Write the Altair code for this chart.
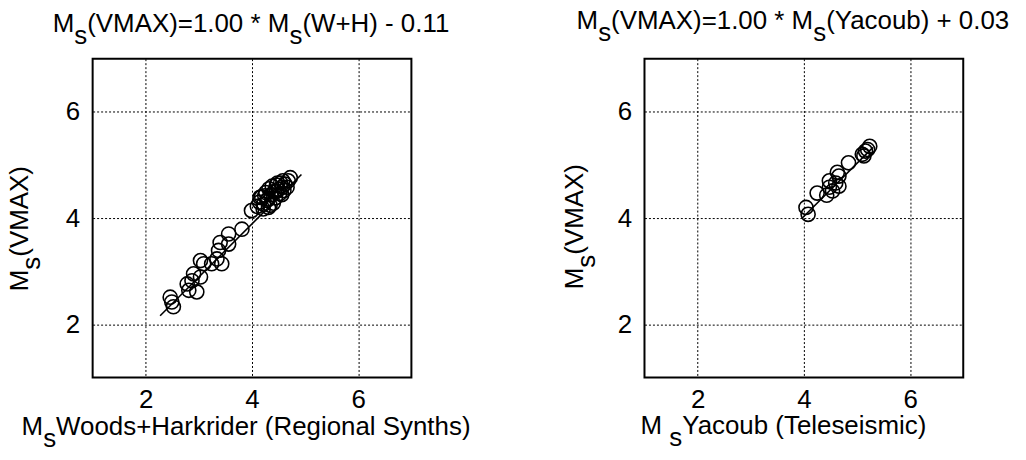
import altair as alt
import pandas as pd

# Ms from Woods+Harkrider regional synthetics vs Ms(VMAX)
wh_ms = [2.46, 2.49, 2.52, 2.78, 2.81, 2.87, 2.90, 2.96, 3.03, 3.03, 3.09, 3.24,
         3.34, 3.37, 3.40, 3.43, 3.56, 3.56, 3.81, 3.99, 4.15, 4.21, 4.31,
         4.10, 4.14, 4.18, 4.22, 4.26, 4.30, 4.32, 4.36, 4.38, 4.42, 4.44, 4.46,
         4.50, 4.52, 4.54, 4.57, 4.60, 4.62, 4.66, 4.68, 4.72, 4.48, 4.40, 4.56, 4.34,
         4.24, 4.28, 4.46, 4.58]
wh_vmax = [2.51, 2.42, 2.33, 2.76, 2.64, 2.82, 2.95, 2.61, 2.89, 3.20, 3.14, 3.14,
           3.23, 3.39, 3.54, 3.14, 3.51, 3.70, 3.79, 4.14, 4.39, 4.17, 4.20,
           4.22, 4.30, 4.40, 4.26, 4.48, 4.36, 4.55, 4.44, 4.60, 4.50, 4.38, 4.62,
           4.54, 4.46, 4.66, 4.58, 4.52, 4.64, 4.58, 4.70, 4.76, 4.66, 4.28, 4.44, 4.24,
           4.42, 4.33, 4.50, 4.70]
wh_fit = [1.00, -0.11]          # slope, intercept
wh_line_x = [2.27, 4.93]

# Ms from Yacoub teleseismic vs Ms(VMAX)
yac_ms = [4.04, 4.08, 4.25, 4.43, 4.48, 4.48, 4.54, 4.60, 4.66, 4.66, 4.63,
          4.84, 5.10, 5.16, 5.20, 5.24, 5.13]
yac_vmax = [4.20, 4.07, 4.47, 4.43, 4.58, 4.70, 4.51, 4.66, 4.60, 4.79, 4.86,
            5.04, 5.20, 5.26, 5.29, 5.35, 5.17]
yac_fit = [1.00, 0.03]
yac_line_x = [3.97, 5.30]

axis_ticks = [2, 4, 6]
axis_domain = [1, 7]

FONT = "Liberation Sans"
FS = 26          # font size for every text
SUB = 12         # baseline drop of a subscript
SIDE = 320       # plot area side, px

# Arial / Liberation Sans advance widths (1/1000 em)
ADVANCE = {
    " ": 278, "(": 333, ")": 333, "*": 389, "+": 584, "-": 333, ".": 278, "=": 584,
    "0": 556, "1": 556, "3": 556,
    "A": 667, "H": 722, "M": 833, "R": 722, "S": 667, "T": 611, "V": 667, "W": 944,
    "X": 667, "Y": 667,
    "a": 556, "b": 556, "c": 500, "d": 556, "e": 556, "g": 556, "h": 556, "i": 222,
    "k": 500, "l": 222, "m": 833, "n": 556, "o": 556, "r": 333, "s": 500, "t": 278,
    "u": 556, "y": 500,
}


def run_width(s):
    return sum(ADVANCE[c] for c in s) * FS / 1000.0


def one_text(s, x, y, angle=0):
    return (
        alt.Chart(alt.Data(values=[{}]))
        .mark_text(text=s, align="left", baseline="alphabetic", font=FONT,
                   fontSize=FS, color="black", angle=angle)
        .encode(x=alt.value(x), y=alt.value(y))
    )


def rich_label(parts, center, base, vertical=False):
    """Text runs with TeX-like subscripts. parts: list of (text, is_subscript)."""
    total = sum(run_width(t) for t, _ in parts)
    layers = []
    if not vertical:
        cur = center - total / 2.0
        for t, sub in parts:
            layers.append(one_text(t, cur, base + (SUB if sub else 0)))
            cur += run_width(t)
    else:
        cur = center + total / 2.0
        for t, sub in parts:
            layers.append(one_text(t, base + (SUB if sub else 0), cur, angle=270))
            cur -= run_width(t)
    return layers


def extent_anchor(x1, y1, x2, y2):
    # invisible diagonal that fixes the panel's outer bounds
    return (
        alt.Chart(alt.Data(values=[{}]))
        .mark_rule(opacity=0, strokeWidth=0)
        .encode(x=alt.value(x1), y=alt.value(y1), x2=alt.value(x2), y2=alt.value(y2))
    )


def panel(xs, ys, line_x, fit, title_parts, title_c, title_b,
          xlab_parts, xlab_c, xlab_b, ylab_c, ylab_b, ext):
    pts = pd.DataFrame({"ms": xs, "vmax": ys})
    ln = pd.DataFrame({"ms": line_x, "vmax": [fit[0] * v + fit[1] for v in line_x]})
    sc = alt.Scale(domain=axis_domain, nice=False, zero=False)
    x_enc = alt.X("ms:Q", scale=sc,
                  axis=alt.Axis(values=axis_ticks, title=None, labelPadding=9,
                                labelAngle=0))
    y_enc = alt.Y("vmax:Q", scale=sc,
                  axis=alt.Axis(values=axis_ticks, title=None, labelPadding=13))
    circles = alt.Chart(pts).mark_point(
        shape="circle", filled=False, size=200, color="black",
        strokeWidth=1.6, opacity=1,
    ).encode(x=x_enc, y=y_enc)
    fit_line = alt.Chart(ln).mark_line(color="black", strokeWidth=1.6).encode(
        x=alt.X("ms:Q", scale=sc), y=alt.Y("vmax:Q", scale=sc)
    )
    texts = []
    texts += rich_label(title_parts, title_c, title_b)
    texts += rich_label(xlab_parts, xlab_c, xlab_b)
    texts += rich_label([("M", False), ("s", True), (" (VMAX)", False)],
                        ylab_c, ylab_b, vertical=True)
    return alt.layer(circles, fit_line, *texts, extent_anchor(*ext)).properties(
        width=SIDE, height=SIDE
    )


left = panel(
    wh_ms, wh_vmax, wh_line_x, wh_fit,
    [("M", False), ("s", True), ("(VMAX)=1.00 * M", False), ("s", True),
     ("(W+H) - 0.11", False)], 160, -27,
    [("M", False), ("s", True), (" Woods+Harkrider (Regional Synths)", False)], 158, 378,
    167, -65,
    (-92, -54, 421, 406),
)

right = panel(
    yac_ms, yac_vmax, yac_line_x, yac_fit,
    [("M", False), ("s", True), ("(VMAX)=1.00 * M", False), ("s", True),
     ("(Yacoub) + 0.03", False)], 150, -30,
    [("M ", False), ("s", True), ("Yacoub (Teleseismic)", False)], 142, 377,
    165, -62,
    (-131, -57, 382, 403),
)

chart = (
    alt.hconcat(left, right, spacing=0, padding=0, background="white")
    .configure_view(stroke="black", strokeWidth=2)
    .configure_axis(
        domain=False, ticks=False, tickSize=0,
        grid=True, gridColor="black", gridDash=[2, 2], gridWidth=1, gridOpacity=1,
        labelFont=FONT, labelFontSize=FS, labelColor="black",
    )
)

chart.save("out.html", embed_options={"renderer": "svg", "actions": False})
